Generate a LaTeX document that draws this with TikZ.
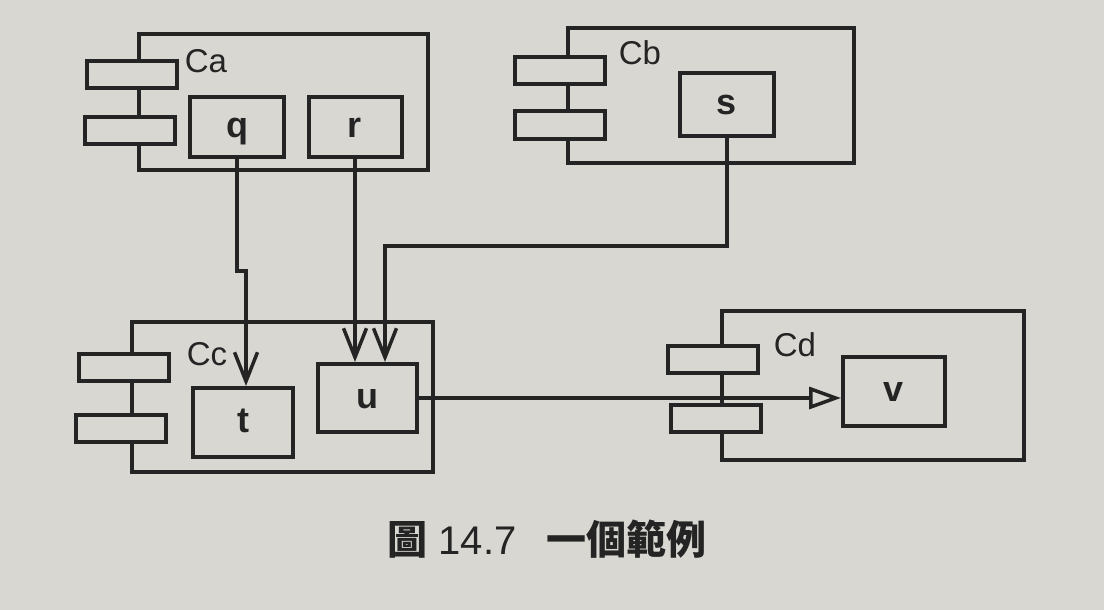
\documentclass[tikz,border=0pt]{standalone}
\usepackage{fontspec}
\setmainfont{Liberation Sans}
\newfontfamily\cjk{Noto Sans CJK TC}
\usetikzlibrary{arrows.meta}
\definecolor{paper}{RGB}{216,215,210}
\definecolor{ink}{RGB}{36,36,36}
\tikzset{
  frame/.style={draw=ink, line width=4pt, fill=paper, inner sep=0pt},
  port/.style={frame, minimum width=90pt, minimum height=27pt},
  part/.style={frame, font=\fontsize{36}{36}\selectfont\bfseries, text=ink, text height=20pt, text depth=0pt},
  clabel/.style={font=\fontsize{33}{33}\selectfont, text=ink, inner sep=0pt},
  wire/.style={draw=ink, line width=3.5pt},
  dep/.style={wire, -{Straight Barb[length=29pt, width=23pt, line width=3.5pt]}},
  gen/.style={wire, -{Triangle[open, fill=paper, length=32pt, width=22pt, line width=3.5pt]}}
}
\begin{document}
\begin{tikzpicture}[x=1pt, y=-1pt]
\useasboundingbox[fill=paper] (0,0) rectangle (1104,610);
% component Ca
\node[frame, minimum width=289pt, minimum height=136pt] (Ca) at (283.5,102) {};
\node[port] (Ca1) at (131.5,75) {};
\node[port] (Ca2) at (130,130) {};
\node[clabel] (CaL) at (206,61) {Ca};
\node[part, minimum width=94pt, minimum height=60pt] (q) at (237,127) {q};
\node[part, minimum width=93pt, minimum height=60pt] (r) at (355,127) {r};
% component Cb
\node[frame, minimum width=286pt, minimum height=135pt] (Cb) at (711,95.5) {};
\node[port] (Cb1) at (560,71) {};
\node[port] (Cb2) at (560,125) {};
\node[clabel] (CbL) at (640,53) {Cb};
\node[part, minimum width=94pt, minimum height=63pt] (s) at (727,104.5) {s};
% component Cc
\node[frame, minimum width=301pt, minimum height=150pt] (Cc) at (282.5,397) {};
\node[port] (Cc1) at (124,367) {};
\node[port] (Cc2) at (121,428) {};
\node[clabel] (CcL) at (207,354) {Cc};
\node[part, minimum width=100pt, minimum height=69pt] (t) at (243,422.5) {t};
\node[part, minimum width=99pt, minimum height=68pt] (u) at (367.5,398) {u};
% component Cd
\node[frame, minimum width=302pt, minimum height=149pt] (Cd) at (873,385.5) {};
\node[port] (Cd1) at (713,359) {};
\node[port] (Cd2) at (716,418.5) {};
\node[clabel] (CdL) at (795,345) {Cd};
\node[part, minimum width=102pt, minimum height=69pt] (v) at (894,391) {v};
% connectors
\coordinate (qj) at (246,271);
\coordinate (sj) at (385,246);
\draw[dep] (q.south) |- (qj) -- (qj |- t.north);
\draw[dep] (r.south) -- (r.south |- u.north);
\draw[dep] (s.south) |- (sj) -- (sj |- u.north);
\draw[gen] (u.east) -- (u.east -| v.west);
% caption
\node[text=ink, inner sep=0pt, font=\fontsize{40}{40}\selectfont] (cap) at (547,539) {{\cjk\bfseries 圖} 14.7\hspace{0.75em}{\cjk\bfseries 一個範例}};
\end{tikzpicture}
\end{document}
